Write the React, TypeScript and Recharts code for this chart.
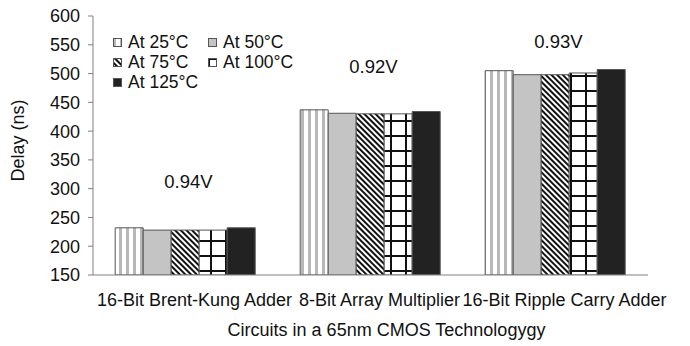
import { Bar, BarChart, Label, Legend, ReferenceDot, XAxis, YAxis } from "recharts";

const circuits = ["16-Bit Brent-Kung Adder", "8-Bit Array Multiplier", "16-Bit Ripple Carry Adder"];
const at25 = [232, 437, 505];
const at50 = [228, 431, 498];
const at75 = [228, 430, 498];
const at100 = [228, 430, 501];
const at125 = [232, 434, 507];
const voltages = ["0.94V", "0.92V", "0.93V"];
const voltageY = [313, 513, 556];
const yTicks = [150, 200, 250, 300, 350, 400, 450, 500, 550, 600];
const boundaryTicks = [0, 1, 2, 3];

const series = [
  { key: "t25", name: "At 25°C", fill: "url(#p25)" },
  { key: "t50", name: "At 50°C", fill: "#c4c4c4" },
  { key: "t75", name: "At 75°C", fill: "url(#p75)" },
  { key: "t100", name: "At 100°C", fill: "url(#p100)" },
  { key: "t125", name: "At 125°C", fill: "#222222" },
];

const data = circuits.map((c, i) => ({
  c,
  t25: at25[i],
  t50: at50[i],
  t75: at75[i],
  t100: at100[i],
  t125: at125[i],
}));

const font = "Liberation Sans, Arial, sans-serif";
const axisColor = "#808080";

function LegendBox() {
  return (
    <div style={{ display: "grid", gridTemplateColumns: "95px 100px", fontFamily: font, fontSize: 17.5, color: "#111" }}>
      {series.map((s) => (
        <div key={s.key} style={{ display: "flex", alignItems: "center", height: 20, whiteSpace: "nowrap" }}>
          <svg width={9} height={9} style={{ marginRight: 6 }}>
            <rect x={0.5} y={0.5} width={8} height={8} fill={s.fill} stroke="#555" />
          </svg>
          {s.name}
        </div>
      ))}
    </div>
  );
}

export default function App() {
  return (
    <div style={{ position: "absolute", left: 0, top: 0, width: 690, height: 346, background: "#fff" }}>
      <BarChart
        width={690}
        height={346}
        data={data}
        margin={{ top: 16, right: 42, left: 0, bottom: 0 }}
        barCategoryGap="12%"
        barGap={0}
      >
        <defs>
          <pattern id="p25" patternUnits="userSpaceOnUse" width={7} height={7}>
            <rect width={7} height={7} fill="#ffffff" />
            <rect x={0} width={3} height={7} fill="#b8b8b8" />
          </pattern>
          <pattern id="p75" patternUnits="userSpaceOnUse" width={4} height={4} patternTransform="rotate(-45)">
            <rect width={4} height={4} fill="#ffffff" />
            <rect x={0} width={2} height={4} fill="#111111" />
          </pattern>
          <pattern id="p100" patternUnits="userSpaceOnUse" width={15} height={15}>
            <rect width={15} height={15} fill="#ffffff" />
            <rect x={0} y={0} width={2} height={15} fill="#111111" />
            <rect x={0} y={0} width={15} height={2} fill="#111111" />
          </pattern>
        </defs>
        <XAxis
          xAxisId="bounds"
          type="number"
          domain={[0, 3]}
          ticks={boundaryTicks}
          height={0}
          tickFormatter={() => ""}
          tickSize={6}
          tickLine={{ stroke: axisColor }}
          axisLine={false}
        />
        <XAxis
          dataKey="c"
          height={71}
          tickLine={false}
          tickSize={0}
          tickMargin={18}
          fontSize={18}
          fontFamily={font}
          axisLine={{ stroke: axisColor }}
          tick={{ fill: "#111", fontSize: 18, fontFamily: font, dx: 9 }}
          interval={0}
        >
          <Label
            value="Circuits in a 65nm CMOS Technologygy"
            position="insideBottom"
            offset={10}
            dx={16}
            style={{ fill: "#111", fontSize: 18, fontFamily: font }}
          />
        </XAxis>
        <XAxis xAxisId="top" dataKey="c" orientation="top" height={0} tick={false} tickLine={false} axisLine={{ stroke: axisColor }} />
        <YAxis
          width={93}
          domain={[150, 600]}
          ticks={yTicks}
          interval={0}
          tickSize={5}
          tickMargin={8}
          fontSize={18}
          fontFamily={font}
          allowDataOverflow
          axisLine={{ stroke: axisColor }}
          tickLine={{ stroke: axisColor }}
          tick={{ fill: "#111", fontSize: 18, fontFamily: font }}
        >
          <Label
            value="Delay (ns)"
            angle={-90}
            position="insideLeft"
            offset={18}
            dy={-5}
            style={{ fill: "#111", fontSize: 18, fontFamily: font, textAnchor: "middle" }}
          />
        </YAxis>
        <YAxis yAxisId="right" orientation="right" width={0} domain={[150, 600]} tick={false} tickLine={false} axisLine={{ stroke: axisColor }} />
        <Legend
          layout="horizontal"
          verticalAlign="middle"
          align="center"
          content={<LegendBox />}
          wrapperStyle={{ position: "absolute", left: 113, top: 32, width: 210 }}
        />
        {series.map((s) => (
          <Bar key={s.key} dataKey={s.key} name={s.name} fill={s.fill} stroke="#555" strokeWidth={1} isAnimationActive={false} />
        ))}
        {circuits.map((c, i) => (
          <ReferenceDot key={c} x={c} y={voltageY[i]} r={0} stroke="none" fill="none" ifOverflow="visible">
            <Label value={voltages[i]} position="center" dx={3} style={{ fill: "#111", fontSize: 18.5, fontFamily: font }} />
          </ReferenceDot>
        ))}
      </BarChart>
    </div>
  );
}
